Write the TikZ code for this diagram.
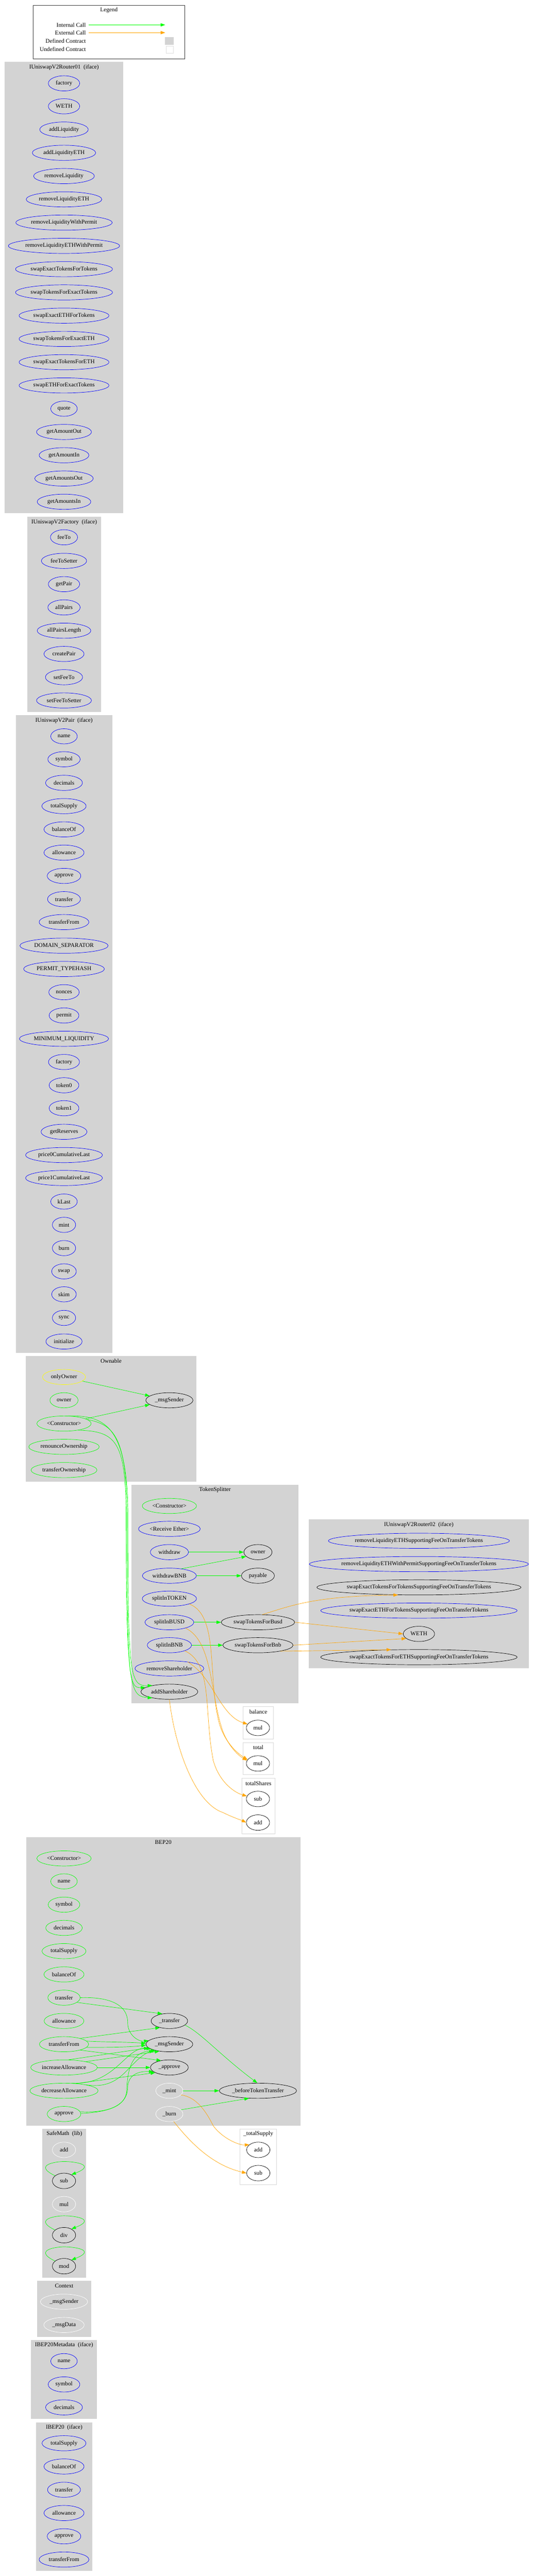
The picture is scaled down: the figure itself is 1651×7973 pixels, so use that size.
\documentclass[tikz,border=0pt]{standalone}
\usepackage{fontspec}
\setmainfont{Liberation Serif}
\usetikzlibrary{shapes.geometric,arrows.meta}
\definecolor{G}{HTML}{00FF00}
\definecolor{O}{HTML}{FFA500}
\definecolor{B}{HTML}{0000FF}
\definecolor{Y}{HTML}{FFFF00}
\definecolor{cl}{HTML}{D3D3D3}
\newcommand\nfont{\fontsize{18}{20}\selectfont}
\newcommand\fn[6]{\node[fnode,#1,minimum width=#5pt] (#2) at (#3,#4) {#6};}
\newcommand\clu[6]{\fill[#1] (#2,#3) rectangle (#4,#5); \node[font=\nfont] at ({(#2+#4)/2},{#3+16}) {#6};}
\begin{document}
\begin{tikzpicture}[x=1pt,y=-1pt,
  fnode/.style={ellipse,inner sep=0pt,minimum height=47pt,font=\nfont,line width=1.1pt},
  bl/.style={draw=B}, gr/.style={draw=G}, bk/.style={draw=black}, wh/.style={draw=white}, ye/.style={draw=Y},
  small/.style={minimum height=48pt},
  ge/.style={draw=G,line width=1.1pt,-{Triangle[length=14pt,width=10pt]}},
  oe/.style={draw=O,line width=1.1pt,-{Triangle[length=14pt,width=10pt]}},
  sub/.style={fill=white,draw=black!15,line width=1.2pt}]
\useasboundingbox (0,0) rectangle (1651,7973);
\fill[white] (0,0) rectangle (1651,7973);
% Legend
\draw[line width=1pt,black!75] (103,16) rectangle (571,182);
\node[font=\nfont] (lgt) at (337,31) {Legend};
\node[font=\nfont,anchor=east] (l1) at (269,77) {Internal Call};
\node[font=\nfont,anchor=east] (l2) at (269,101) {External Call};
\node[font=\nfont,anchor=east] (l3) at (269,127) {Defined Contract};
\node[font=\nfont,anchor=east] (l4) at (269,153) {Undefined Contract};
\coordinate (a1) at (274,77); \coordinate (b1) at (511,77);
\coordinate (a2) at (274,101); \coordinate (b2) at (511,101);
\draw[ge] (a1) -- (b1);
\draw[oe] (a2) -- (b2);
\fill[cl] (511,115) rectangle (538,139);
\draw[draw=black!12,line width=1pt] (514,143) rectangle (536,164);
% Router01
\clu{cl}{15}{192}{381}{1589}{IUniswapV2Router01\ \ (iface)}
\fn{bl}{ra}{198}{258}{97}{factory}
\fn{bl}{rb}{198}{329}{97}{WETH}
\fn{bl}{rc}{198}{401}{150}{addLiquidity}
\fn{bl}{rd}{198}{473}{196}{addLiquidityETH}
\fn{bl}{re}{198}{545}{188}{removeLiquidity}
\fn{bl}{rf}{198}{617}{234}{removeLiquidityETH}
\fn{bl}{rg}{198}{689}{298}{removeLiquidityWithPermit}
\fn{bl}{rh}{198}{761}{344}{removeLiquidityETHWithPermit}
\fn{bl}{ri}{198}{833}{300}{swapExactTokensForTokens}
\fn{bl}{rj}{198}{905}{300}{swapTokensForExactTokens}
\fn{bl}{rk}{198}{977}{278}{swapExactETHForTokens}
\fn{bl}{rl}{198}{1049}{278}{swapTokensForExactETH}
\fn{bl}{rm}{198}{1121}{278}{swapExactTokensForETH}
\fn{bl}{rn}{198}{1193}{278}{swapETHForExactTokens}
\fn{bl}{ro}{198}{1265}{82}{quote}
\fn{bl}{rp}{198}{1337}{170}{getAmountOut}
\fn{bl}{rq}{198}{1409}{154}{getAmountIn}
\fn{bl}{rr}{198}{1481}{181}{getAmountsOut}
\fn{bl}{rs}{198}{1553}{166}{getAmountsIn}
% Factory
\clu{cl}{85}{1600}{312}{2203}{IUniswapV2Factory\ \ (iface)}
\fn{bl}{fa}{198}{1663}{84}{feeTo}
\fn{bl}{fb}{198}{1736}{140}{feeToSetter}
\fn{bl}{fc}{198}{1808}{97}{getPair}
\fn{bl}{fd}{198}{1880}{100}{allPairs}
\fn{bl}{fe}{198}{1952}{166}{allPairsLength}
\fn{bl}{ff}{198}{2024}{124}{createPair}
\fn{bl}{fg}{198}{2096}{115}{setFeeTo}
\fn{bl}{fh}{198}{2168}{170}{setFeeToSetter}
% Pair
\clu{cl}{49}{2214}{347}{4187}{IUniswapV2Pair\ \ (iface)}
\fn{bl}{pa}{198}{2279}{82}{name}
\fn{bl}{pb}{198}{2350}{100}{symbol}
\fn{bl}{pc}{198}{2423}{114}{decimals}
\fn{bl}{pd}{198}{2495}{137}{totalSupply}
\fn{bl}{pe}{198}{2567}{124}{balanceOf}
\fn{bl}{pf}{198}{2639}{124}{allowance}
\fn{bl}{pg}{198}{2711}{104}{approve}
\fn{bl}{ph}{198}{2783}{102}{transfer}
\fn{bl}{pi}{198}{2854}{154}{transferFrom}
\fn{bl}{pj}{198}{2927}{273}{DOMAIN\_SEPARATOR}
\fn{bl}{pk}{198}{2999}{250}{PERMIT\_TYPEHASH}
\fn{bl}{pl}{198}{3071}{94}{nonces}
\fn{bl}{pm}{198}{3143}{92}{permit}
\fn{bl}{pn}{198}{3215}{276}{MINIMUM\_LIQUIDITY}
\fn{bl}{po}{198}{3287}{96}{factory}
\fn{bl}{pp}{198}{3359}{92}{token0}
\fn{bl}{pq}{198}{3430}{92}{token1}
\fn{bl}{pr}{198}{3503}{142}{getReserves}
\fn{bl}{ps}{198}{3575}{238}{price0CumulativeLast}
\fn{bl}{pt}{198}{3646}{238}{price1CumulativeLast}
\fn{bl}{pu}{198}{3719}{82}{kLast}
\fn{bl}{pv}{198}{3791}{72}{mint}
\fn{bl}{pw}{198}{3863}{72}{burn}
\fn{bl}{px}{198}{3935}{76}{swap}
\fn{bl}{py}{198}{4006}{76}{skim}
\fn{bl}{pz}{198}{4079}{72}{sync}
\fn{bl}{pzz}{198}{4152}{112}{initialize}
% Ownable
\clu{cl}{79}{4197}{608}{4586}{Ownable}
\fn{ye}{oa}{198}{4262}{133}{onlyOwner}
\fn{gr}{ob}{198}{4334}{87}{owner}
\fn{gr}{oc}{198}{4406}{168}{<Constructor>}
\fn{gr}{od}{198}{4478}{218}{renounceOwnership}
\fn{gr}{oe}{198}{4550}{204}{transferOwnership}
\fn{bk}{oms}{524}{4334}{146}{\_msgSender}
% TokenSplitter
\clu{cl}{407}{4595}{923}{5272}{TokenSplitter}
\fn{gr}{ta}{524}{4661}{168}{<Constructor>}
\fn{bl}{tb}{524}{4732}{191}{<Receive Ether>}
\fn{bl}{tc}{524}{4804}{118}{withdraw}
\fn{bl}{td}{524}{4877}{167}{withdrawBNB}
\fn{bl}{te}{524}{4948}{168}{splitInTOKEN}
\fn{bl}{tf}{524}{5021}{151}{splitInBUSD}
\fn{bl}{tg}{524}{5092}{137}{splitInBNB}
\fn{bl}{th}{524}{5164}{213}{removeShareholder}
\fn{bk}{ti}{524}{5236}{176}{addShareholder}
\fn{bk}{tj}{798}{4804}{87}{owner}
\fn{bk}{tk}{798}{4877}{102}{payable}
\fn{bk}{tl}{798}{5021}{227}{swapTokensForBusd}
\fn{bk}{tm}{798}{5092}{217}{swapTokensForBnb}
% Router02
\clu{cl}{955}{4703}{1636}{5164}{IUniswapV2Router02\ \ (iface)}
\fn{bl}{ua}{1296}{4769}{547}{removeLiquidityETHSupportingFeeOnTransferTokens}
\fn{bl}{ub}{1296}{4841}{659}{removeLiquidityETHWithPermitSupportingFeeOnTransferTokens}
\fn{bk}{uc}{1296}{4913}{615}{swapExactTokensForTokensSupportingFeeOnTransferTokens}
\fn{bl}{ud}{1296}{4985}{591}{swapExactETHForTokensSupportingFeeOnTransferTokens}
\fn{bk}{ue}{1296}{5057}{97}{WETH}
\fn{bk}{uf}{1296}{5129}{591}{swapExactTokensForETHSupportingFeeOnTransferTokens}
% small clusters
\clu{sub}{752}{5282}{846}{5382}{balance}
\fn{bk,small}{va}{798}{5348}{72}{mul}
\clu{sub}{752}{5393}{846}{5493}{total}
\fn{bk,small}{vb}{798}{5458}{72}{mul}
\clu{sub}{748}{5504}{851}{5676}{totalShares}
\fn{bk,small}{vc}{798}{5568}{72}{sub}
\fn{bk,small}{vd}{798}{5641}{72}{add}
% BEP20
\clu{cl}{81}{5686}{929}{6579}{BEP20}
\fn{gr}{ba}{198}{5752}{168}{<Constructor>}
\fn{gr}{bb}{198}{5823}{82}{name}
\fn{gr}{bc}{198}{5895}{98}{symbol}
\fn{gr}{bd}{198}{5967}{113}{decimals}
\fn{gr}{be}{198}{6039}{136}{totalSupply}
\fn{gr}{bf}{198}{6111}{124}{balanceOf}
\fn{gr}{bg}{198}{6183}{100}{transfer}
\fn{gr}{bh}{198}{6255}{123}{allowance}
\fn{gr}{bi}{198}{6327}{152}{transferFrom}
\fn{gr}{bj}{198}{6399}{206}{increaseAllowance}
\fn{gr}{bk}{198}{6471}{211}{decreaseAllowance}
\fn{gr}{bl}{198}{6543}{104}{approve}
\fn{bk}{bm}{524}{6255}{113}{\_transfer}
\fn{bk}{bn}{524}{6327}{145}{\_msgSender}
\fn{bk}{bo}{524}{6399}{117}{\_approve}
\fn{wh}{bp}{524}{6471}{84}{\_mint}
\fn{wh}{bq}{524}{6543}{84}{\_burn}
\fn{bk}{br}{798}{6471}{239}{\_beforeTokenTransfer}
% SafeMath
\clu{cl}{131}{6589}{267}{7050}{SafeMath\ \ (lib)}
\fn{wh,small}{sa}{198}{6654}{72}{add}
\fn{bk,small}{sb}{198}{6750}{72}{sub}
\fn{wh,small}{sc}{198}{6822}{72}{mul}
\fn{bk,small}{sd}{198}{6918}{72}{div}
\fn{bk,small}{se}{198}{7014}{72}{mod}
% _totalSupply
\clu{sub}{742}{6589}{856}{6761}{\_totalSupply}
\fn{bk,small}{wa}{799}{6654}{72}{add}
\fn{bk,small}{wb}{799}{6726}{72}{sub}
% Context
\clu{cl}{115}{7059}{282}{7233}{Context}
\fn{wh}{ca}{198}{7124}{146}{\_msgSender}
\fn{wh}{cb}{198}{7196}{125}{\_msgData}
% IBEP20Metadata
\clu{cl}{96}{7242}{300}{7487}{IBEP20Metadata\ \ (iface)}
\fn{bl}{ma}{198}{7308}{82}{name}
\fn{bl}{mb}{198}{7380}{98}{symbol}
\fn{bl}{mc}{198}{7451}{114}{decimals}
% IBEP20
\clu{cl}{111}{7497}{286}{7957}{IBEP20\ \ (iface)}
\fn{bl}{ia}{198}{7562}{136}{totalSupply}
\fn{bl}{ib}{198}{7634}{124}{balanceOf}
\fn{bl}{ic}{198}{7706}{102}{transfer}
\fn{bl}{id}{198}{7778}{124}{allowance}
\fn{bl}{ie}{198}{7850}{104}{approve}
\fn{bl}{if}{198}{7922}{154}{transferFrom}
% ---- edges: Ownable
\draw[ge] (oa) -- (oms);
\draw[ge] (oc) -- (oms);
\draw[ge] (oc.60) .. controls (330,4380) and (396,4420) .. (396,4700) .. controls (396,5180) and (400,5220) .. (ti.160);
\draw[ge] (oc.10) .. controls (350,4410) and (393,4440) .. (393,4700) .. controls (393,5200) and (400,5225) .. (ti.170);
\draw[ge] (oc.335) .. controls (360,4430) and (390,4460) .. (390,4700) .. controls (390,5240) and (405,5250) .. (ti.200);
% TokenSplitter internal
\draw[ge] (tc) -- (tj);
\draw[ge] (td.30) -- (tj.200);
\draw[ge] (td) -- (tk);
\draw[ge] (tf) -- (tl);
\draw[ge] (tg) -- (tm);
% external to Router02
\draw[oe] (tl.60) .. controls (900,4970) and (970,4940) .. (uc.200);
\draw[oe] (tl.east) -- (ue.west);
\draw[oe] (tm.east) -- (ue.200);
\draw[oe] (tm.345) -- (uf.165);
% external to SafeMath usages
\draw[oe] (th.20) .. controls (660,5190) and (680,5310) .. (va.160);
\draw[oe] (te.345) .. controls (680,5000) and (640,5200) .. (680,5340) .. controls (700,5400) and (740,5430) .. (vb.160);
\draw[oe] (tf.340) .. controls (660,5080) and (650,5250) .. (690,5360) .. controls (710,5410) and (740,5435) .. (vb.165);
\draw[oe] (tg.340) .. controls (660,5150) and (630,5300) .. (660,5450) .. controls (680,5520) and (730,5550) .. (vc.165);
\draw[oe] (ti.south) .. controls (540,5400) and (600,5580) .. (690,5610) .. controls (720,5625) and (750,5635) .. (vd.west);
% BEP20 internal
\draw[ge] (bg.340) -- (bm.135);
\draw[ge] (bg.east) .. controls (330,6180) and (395,6200) .. (395,6260) .. controls (395,6300) and (430,6320) .. (bn.170);
\draw[ge] (bi.20) -- (bm.215);
\draw[ge] (bi.8) .. controls (300,6320) and (400,6320) .. (bn.178);
\draw[ge] (bi.352) .. controls (300,6337) and (400,6337) .. (bn.182);
\draw[ge] (bi.340) -- (bo.140);
\draw[ge] (bj.60) -- (bn.190);
\draw[ge] (bj.15) -- (bn.215);
\draw[ge] (bj.east) -- (bo.west);
\draw[ge] (bk.45) .. controls (360,6455) and (390,6330) .. (bn.195);
\draw[ge] (bk.15) .. controls (380,6470) and (395,6380) .. (bn.200);
\draw[ge] (bk.30) -- (bo.200);
\draw[ge] (bl.8) .. controls (330,6540) and (390,6520) .. (392,6470) .. controls (395,6380) and (420,6350) .. (bn.205);
\draw[ge] (bl.2) .. controls (330,6538) and (395,6520) .. (395,6460) .. controls (397,6420) and (430,6410) .. (bo.195);
\draw[ge] (bm.345) .. controls (620,6290) and (680,6360) .. (br.95);
\draw[ge] (bp) -- (br);
\draw[ge] (bq.20) -- (br.220);
\draw[oe] (bp.340) .. controls (610,6490) and (640,6540) .. (660,6580) .. controls (690,6620) and (740,6640) .. (wa.150);
\draw[oe] (bq.300) .. controls (580,6620) and (650,6700) .. (wb.180);
% SafeMath self loops
\draw[ge] (sb.150) .. controls (100,6700) and (175,6690) .. (198,6690) .. controls (230,6690) and (300,6700) .. (sb.40);
\draw[ge] (sd.150) .. controls (100,6868) and (175,6858) .. (198,6858) .. controls (230,6858) and (300,6868) .. (sd.40);
\draw[ge] (se.150) .. controls (100,6964) and (175,6954) .. (198,6954) .. controls (230,6954) and (300,6964) .. (se.40);
\end{tikzpicture}
\end{document}
